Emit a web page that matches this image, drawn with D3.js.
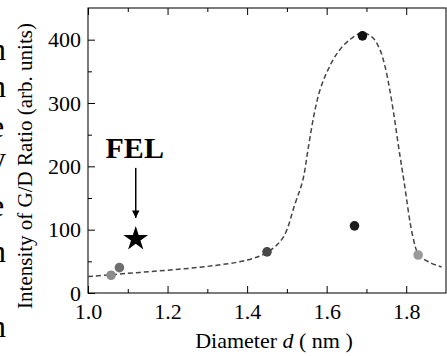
<!DOCTYPE html>
<html>
<head>
<meta charset="utf-8">
<script src="https://cdn.jsdelivr.net/npm/d3@7"></script>
<style>
	body { margin: 0; background: #fff; }
	svg { display: block; }
	svg text { font-family: "Liberation Serif", "Times New Roman", serif; }
</style>
</head>
<body>
<svg id="chart" width="447" height="356"></svg>
<script>
// measured points (diameter in nm, G/D intensity)
var diameters = [1.058, 1.079, 1.45, 1.67, 1.69, 1.83];
var intensities = [28, 40, 65, 106, 406, 60];
var pointColors = ['#8c8c8c', '#6e6e6e', '#474747', '#1c1c1c', '#111111', '#9a9a9a'];

// guide curve (dashed)
var curveD = [1.00, 1.10, 1.20, 1.30, 1.40, 1.45, 1.49, 1.52, 1.54, 1.553, 1.568, 1.583, 1.603, 1.628, 1.658, 1.69, 1.716, 1.734, 1.747, 1.763, 1.782, 1.794, 1.817, 1.832, 1.86, 1.889];
var curveI = [26, 31, 36, 42, 52, 64, 87, 140, 178, 226, 281, 320, 352, 380, 400, 411, 403, 384, 357, 305, 226, 178, 88, 60, 48, 41];

// FEL marker
var felD = 1.12, felI = 87;

var xTicks = [1.0, 1.2, 1.4, 1.6, 1.8];
var xMinor = [1.1, 1.3, 1.5, 1.7];
var yTicks = [0, 100, 200, 300, 400];
var yMinor = [50, 150, 250, 350];

// cut-off letters from the neighbouring text column
var sideLetters = ['n', 'n', 'e', 'y', 'e', 'n', 'n'];
var sideBase = [60, 97, 137, 169, 216, 262, 337];

var svg = d3.select('#chart'),
	m = {left: 88, right: 446, top: 8, bottom: 293};

var x = d3.scaleLinear().domain([1.0, 1.9]).range([m.left, m.right]),
	y = d3.scaleLinear().domain([0, 450]).range([m.bottom, m.top]);

svg.selectAll('text.side').data(sideLetters)
	.enter().append('text')
	.attr('class', 'side')
	.attr('x', -10)
	.attr('y', function(d, i){ return sideBase[i]; })
	.attr('font-size', 32)
	.text(function(d){ return d; });

// frame
svg.append('rect')
	.attr('x', m.left).attr('y', m.top)
	.attr('width', m.right - m.left).attr('height', m.bottom - m.top)
	.attr('fill', 'none').attr('stroke', '#111').attr('stroke-width', 1.1);

// axes with inward ticks
var xAxis = svg.append('g').attr('transform', 'translate(0,' + m.bottom + ')')
	.call(d3.axisBottom(x).tickValues(xTicks).tickSize(-7).tickPadding(10).tickFormat(d3.format('.1f')));
svg.append('g').attr('transform', 'translate(0,' + m.bottom + ')')
	.call(d3.axisBottom(x).tickValues(xMinor).tickSize(-4).tickFormat(''));
svg.append('g').attr('transform', 'translate(0,' + m.top + ')')
	.call(d3.axisTop(x).tickValues(xTicks).tickSize(-7).tickFormat(''));
svg.append('g').attr('transform', 'translate(0,' + m.top + ')')
	.call(d3.axisTop(x).tickValues(xMinor).tickSize(-4).tickFormat(''));
svg.append('g').attr('transform', 'translate(' + m.left + ',0)')
	.call(d3.axisLeft(y).tickValues(yTicks).tickSize(-7).tickPadding(7));
svg.append('g').attr('transform', 'translate(' + m.left + ',0)')
	.call(d3.axisLeft(y).tickValues(yMinor).tickSize(-4).tickFormat(''));

svg.selectAll('.domain').remove();
svg.selectAll('.tick line').attr('stroke', '#000').attr('stroke-width', 1);
svg.selectAll('.tick text')
	.style('font-family', '"Liberation Serif", serif')
	.style('font-size', '22px')
	.attr('fill', '#000');
xAxis.selectAll('.tick text').attr('dy', '0.71em');

// dashed guide curve
var line = d3.line()
	.x(function(d, i){ return x(curveD[i]); })
	.y(function(d, i){ return y(curveI[i]); })
	.curve(d3.curveCatmullRom.alpha(0.5));

svg.append('path')
	.datum(curveD)
	.attr('d', line)
	.attr('fill', 'none')
	.attr('stroke', '#444')
	.attr('stroke-width', 1.5)
	.attr('stroke-dasharray', '5,3');

svg.selectAll('circle.pt').data(diameters)
	.enter().append('circle')
	.attr('class', 'pt')
	.attr('cx', function(d){ return x(d); })
	.attr('cy', function(d, i){ return y(intensities[i]); })
	.attr('r', 4.8)
	.attr('fill', function(d, i){ return pointColors[i]; });

// FEL star, arrow, label
svg.append('path')
	.attr('d', d3.symbol().type(d3.symbolStar).size(190)())
	.attr('transform', 'translate(' + x(felD) + ',' + (y(felI) + 1) + ')')
	.attr('fill', '#000');

svg.append('defs').append('marker')
	.attr('id', 'head')
	.attr('viewBox', '0 0 10 10')
	.attr('refX', 10).attr('refY', 5)
	.attr('markerWidth', 5).attr('markerHeight', 6)
	.attr('orient', 'auto')
	.append('path').attr('d', 'M0,0L10,5L0,10z').attr('fill', '#000');

svg.append('line')
	.attr('x1', x(felD)).attr('x2', x(felD))
	.attr('y1', y(felI) - 70).attr('y2', y(felI) - 20)
	.attr('stroke', '#000').attr('stroke-width', 1.5)
	.attr('marker-end', 'url(#head)');

svg.append('text')
	.attr('x', x(felD) - 1).attr('y', y(felI) - 80)
	.attr('text-anchor', 'middle')
	.attr('font-size', 30)
	.attr('font-weight', 'bold')
	.text('FEL');

// axis titles
var xt = svg.append('text')
	.attr('x', 274).attr('y', 348)
	.attr('text-anchor', 'middle')
	.attr('font-size', 22);
xt.append('tspan').text('Diameter ');
xt.append('tspan').attr('font-style', 'italic').text('d');
xt.append('tspan').text(' ( nm )');

svg.append('text')
	.attr('transform', 'translate(32,166) rotate(-90)')
	.attr('text-anchor', 'middle')
	.attr('font-size', 21)
	.text('Intensity of G/D Ratio (arb. units)');
</script>
</body>
</html>
